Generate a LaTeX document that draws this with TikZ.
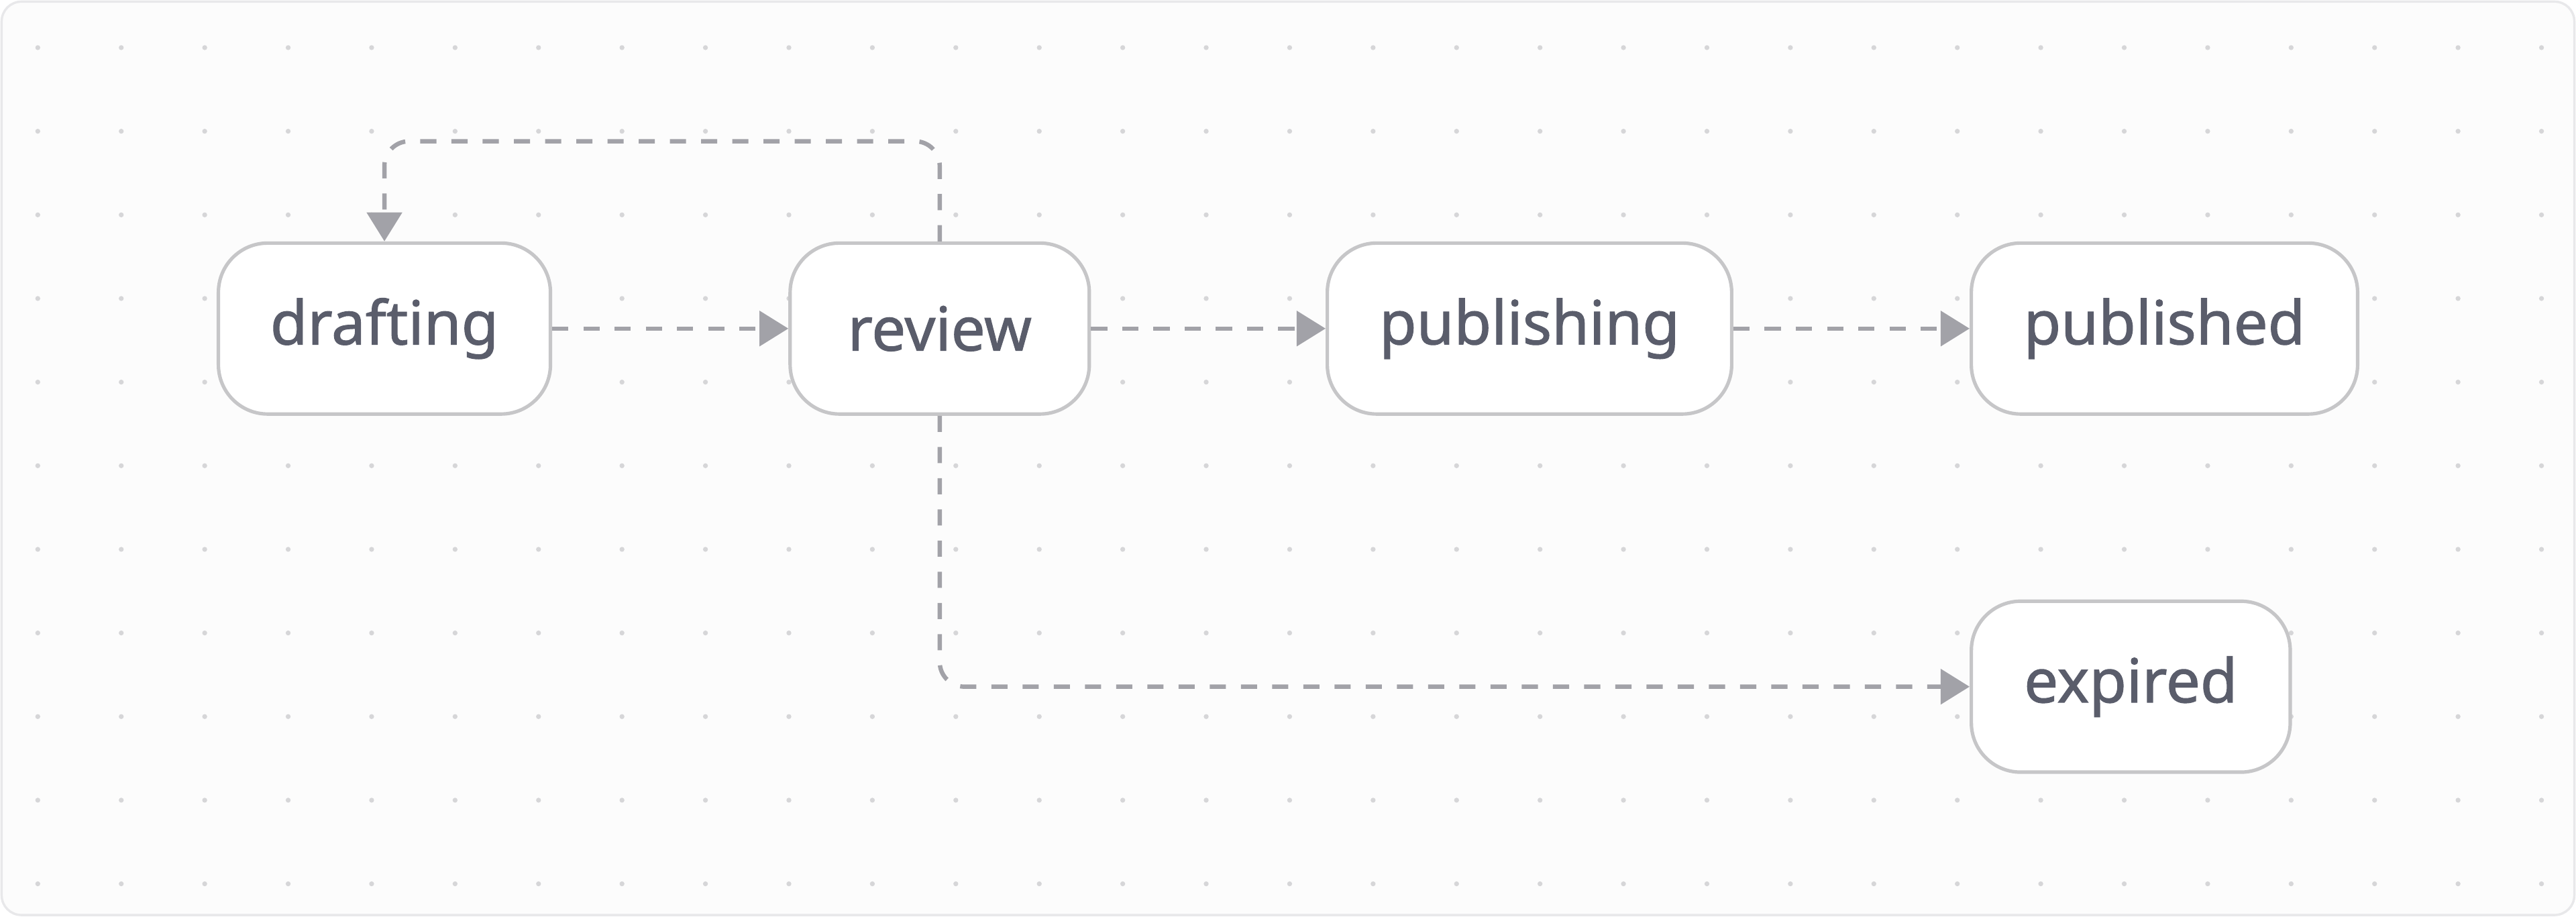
\documentclass[tikz,border=0pt]{standalone}
\usepackage{fontspec}
\setmainfont{Noto Sans}[FakeBold=1.2]
\usetikzlibrary{arrows.meta}
\definecolor{bg}{HTML}{FCFCFC}
\definecolor{dotc}{HTML}{D6D6D8}
\definecolor{nodeb}{HTML}{C6C6C8}
\definecolor{txt}{HTML}{5A5D6B}
\definecolor{edge}{HTML}{A2A2A8}
\definecolor{frame}{HTML}{E8E8EA}
\begin{document}
\begin{tikzpicture}[x=0.01cm,y=-0.01cm,
  st/.style={draw=nodeb,line width=0.6pt,fill=white,rounded corners=0.3cm,minimum height=1.04cm,inner sep=0pt,text=txt,font=\fontsize{10.5}{12}\selectfont},
  ed/.style={draw=edge,line width=0.75pt,dash pattern=on 2.8pt off 2.6pt,-{Triangle[length=5pt,width=6pt]},rounded corners=0.15cm}]
\useasboundingbox (0,0) rectangle (1568,558);
\fill[bg,draw=frame,line width=0.4pt,rounded corners=0.12cm] (1,1) rectangle (1567,557);
\foreach \i in {0,...,30}{\foreach \j in {0,...,10}{\fill[dotc] (23+50.8*\i,29+50.9*\j) circle (0.015cm);}}
\node[st,minimum width=2.02cm] (d) at (234,200) {drafting};
\node[st,minimum width=1.82cm] (r) at (572,200) {review};
\node[st,minimum width=2.46cm] (p) at (931,200) {publishing};
\node[st,minimum width=2.35cm] (pd) at (1317.5,200) {published};
\node[st,minimum width=1.94cm] (e) at (1297,418) {expired};
\draw[ed] (d) -- (r);
\draw[ed] (r) -- (p);
\draw[ed] (p) -- (pd);
\draw[ed] (r.south) |- (e.west);
\coordinate (c1) at (572,86);
\draw[ed] (r.north) -- (c1) -| (d.north);
\end{tikzpicture}
\end{document}
